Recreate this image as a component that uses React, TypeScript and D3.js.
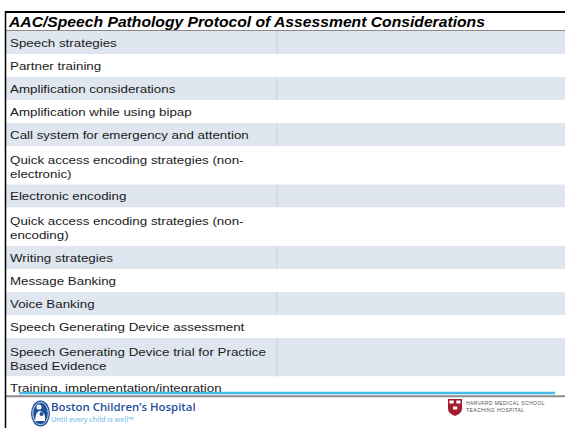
import React from "react";
import * as d3 from "d3";

// protocol table rows (each row = lines of text)
const title = "AAC/Speech Pathology Protocol of Assessment Considerations";
const rowLabels: string[][] = [
  ["Speech strategies"],
  ["Partner training"],
  ["Amplification considerations"],
  ["Amplification while using bipap"],
  ["Call system for emergency and attention"],
  ["Quick access encoding strategies (non-", "electronic)"],
  ["Electronic encoding"],
  ["Quick access encoding strategies (non-", "encoding)"],
  ["Writing strategies"],
  ["Message Banking"],
  ["Voice Banking"],
  ["Speech Generating Device assessment"],
  ["Speech Generating Device trial for Practice", "Based Evidence"],
  ["Training, implementation/integration"],
];
const footerLeft = ["Boston Children\u2019s Hospital", "Until every child is well\u2122"];
const footerRight = ["HARVARD MEDICAL SCHOOL", "TEACHING HOSPITAL"];

const W = 565;
const H = 428;
const tableLeft = 6;
const tableTop = 12;
const titleH = 19;
const divX = 277;
const stretch = 1.15; // slide is a bit wider than tall
const font = "'Liberation Sans', Arial, sans-serif";

function App() {
  const heights = rowLabels.map((r) => (r.length > 1 ? 38.5 : 23));
  const tops = [0, ...d3.cumsum(heights)].map((v) => v + tableTop + titleH);
  const stripe = d3.scaleOrdinal<number, string>().domain([0, 1]).range(["#dfe6ef", "#ffffff"]);

  return (
    <svg width={W} height={H} style={{ position: "absolute", left: 0, top: 0, background: "#fff" }}>
      {/* rows */}
      {rowLabels.map((lines, i) => (
        <g key={i}>
          <rect x={tableLeft} y={tops[i]} width={W - tableLeft} height={heights[i]} fill={stripe(i % 2)} />
          {i % 2 === 0 && (
            <line x1={divX} x2={divX} y1={tops[i]} y2={tops[i] + heights[i]} stroke="#c9d1dc" strokeWidth={1} />
          )}
          {lines.map((t, j) => (
            <text
              key={j}
              transform={`translate(10,${tops[i] + (lines.length > 1 ? 17.5 : 15.5) + j * 14}) scale(${stretch},1)`}
              fontFamily={font}
              fontSize={11.6}
              fill="#1a1a1a"
            >
              {t}
            </text>
          ))}
        </g>
      ))}

      {/* title row */}
      <rect x={tableLeft} y={tableTop} width={W - tableLeft} height={titleH} fill="#fff" />
      <text
        transform={`translate(9,${tableTop + 14.5}) scale(1.12,1)`}
        fontFamily={font}
        fontSize={14}
        fontWeight="bold"
        fontStyle="italic"
        fill="#000"
      >
        {title}
      </text>
      <line x1={tableLeft} x2={W} y1={tableTop} y2={tableTop} stroke="#000" strokeWidth={2} />
      <line x1={tableLeft} x2={W} y1={tableTop + titleH - 0.5} y2={tableTop + titleH - 0.5} stroke="#8a8a8a" strokeWidth={1} />

      {/* footer */}
      <rect x={tableLeft} y={394.5} width={W - tableLeft} height={H - 394.5} fill="#fff" />
      <line x1={19} x2={555} y1={393} y2={393} stroke="#45bde8" strokeWidth={2.5} />
      <line x1={tableLeft} x2={W} y1={396.3} y2={396.3} stroke="#8c8c8c" strokeWidth={2} />
      <line x1={5.5} x2={5.5} y1={11} y2={H} stroke="#000" strokeWidth={1.5} />

      {/* Boston Children's logo */}
      <g>
        <ellipse cx={40.5} cy={413.5} rx={9.5} ry={13} fill="#1d4f9e" />
        <ellipse cx={40.5} cy={413.5} rx={7.8} ry={11.2} fill="none" stroke="#fff" strokeWidth={0.8} />
        <circle cx={39} cy={407} r={2.6} fill="#fff" />
        <path d="M35,421 Q36,410 40,411 Q46,412 45,421 Z" fill="#fff" />
        <circle cx={41.5} cy={414} r={2} fill="#1d4f9e" />
      </g>
      <text x={51} y={410.5} fontFamily="'Open Sans', sans-serif" fontSize={11.4} fontWeight={600} fill="#1f4f9d">
        {footerLeft[0]}
      </text>
      <text x={51} y={422} fontFamily="'Open Sans', sans-serif" fontSize={7.3} fill="#63b6e6">
        {footerLeft[1]}
      </text>

      {/* Harvard shield */}
      <g>
        <path d="M448,399 H462 V408.5 Q462,413.5 455,416 Q448,413.5 448,408.5 Z" fill="#a51c30" />
        <rect x={449.5} y={400.5} width={4.2} height={3} fill="#fff" />
        <rect x={456.3} y={400.5} width={4.2} height={3} fill="#fff" />
        <rect x={453} y={406.5} width={4.2} height={3} fill="#fff" />
      </g>
      {footerRight.map((t, i) => (
        <text key={i} x={466} y={405 + i * 7} fontFamily={font} fontSize={5.1} letterSpacing={0.35} fill="#555">
          {t}
        </text>
      ))}
    </svg>
  );
}

export default App;
